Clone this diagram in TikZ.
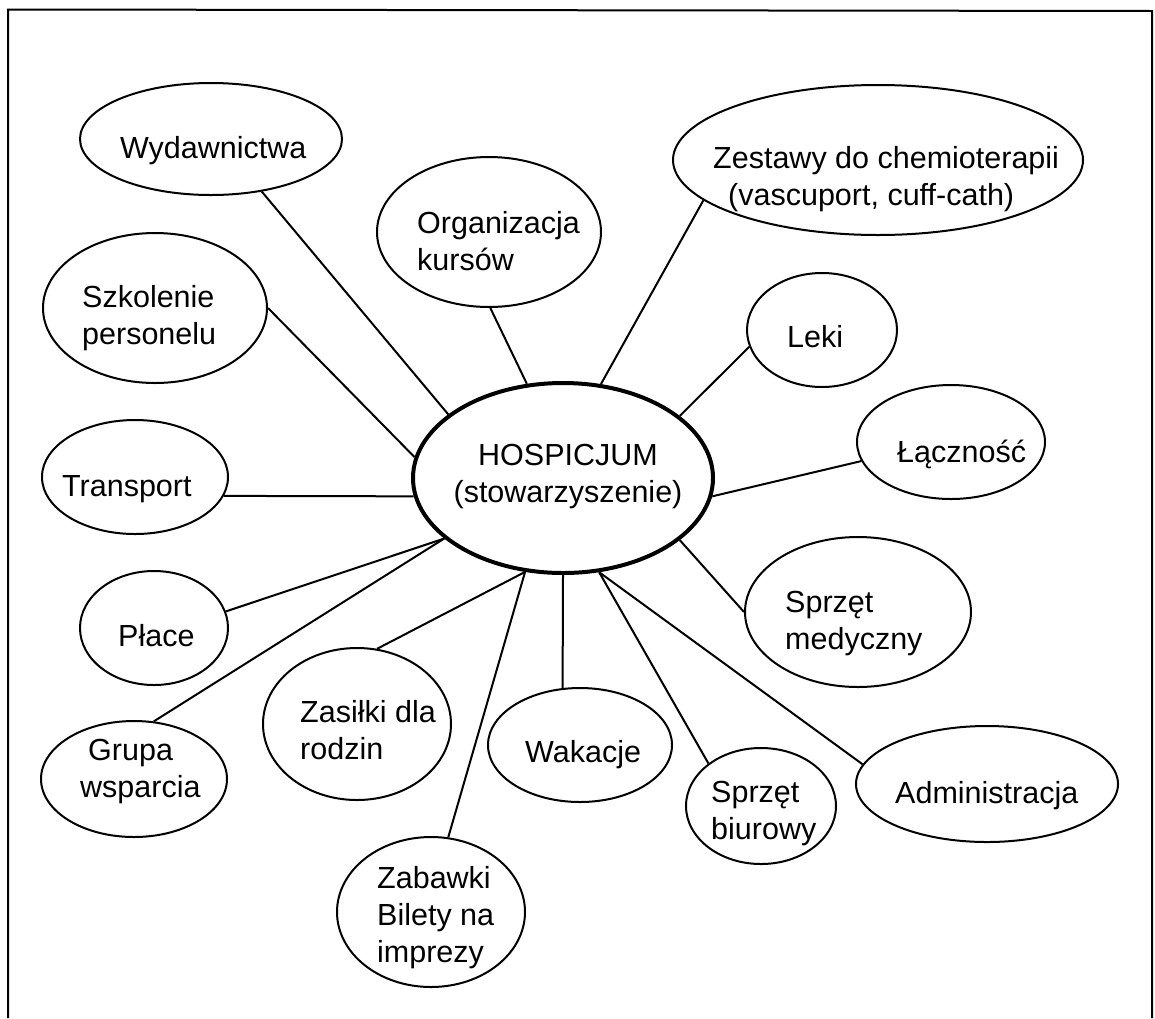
\documentclass[tikz,border=0pt]{standalone}
\usepackage{fontspec}
\setmainfont{Liberation Sans}
\usetikzlibrary{shapes.geometric}
\newcommand\mlL[1]{\begin{tabular}[t]{@{}l@{}}#1\end{tabular}}
\newcommand\mlC[1]{\begin{tabular}[t]{@{}c@{}}#1\end{tabular}}
\begin{document}
\begin{tikzpicture}[x=1pt,y=-1pt,
  bub/.style={draw, ellipse, line width=2pt, inner sep=0pt},
  hub/.style={bub, line width=4pt},
  txt/.style={inner sep=0pt, font=\fontsize{30.5}{37}\selectfont},
  link/.style={line width=2pt},
  frame/.style={line width=2pt}]
\useasboundingbox (0,0) rectangle (1155,1018);
% frame
\draw[frame] (8,1018) -- (8,9.5) -- (1152,11) -- (1152,1018);

% ellipses
\node[hub, minimum width=300pt, minimum height=190pt] (cen) at (563,478) {};
\node[bub, minimum width=262pt, minimum height=112pt] (wyd) at (211,139) {};
\node[bub, minimum width=224pt, minimum height=150pt] (szk) at (155,308) {};
\node[bub, minimum width=224pt, minimum height=150pt] (org) at (489,232) {};
\node[bub, minimum width=410pt, minimum height=150pt] (zes) at (878,160) {};
\node[bub, minimum width=150pt, minimum height=114pt] (lek) at (822,330) {};
\node[bub, minimum width=188pt, minimum height=114pt] (lac) at (951,442) {};
\node[bub, minimum width=226pt, minimum height=150pt] (spm) at (858,612) {};
\node[bub, minimum width=186pt, minimum height=114pt] (tra) at (135,477) {};
\node[bub, minimum width=148pt, minimum height=114pt] (pla) at (154,628) {};
\node[bub, minimum width=186pt, minimum height=116pt] (gru) at (134,779) {};
\node[bub, minimum width=188pt, minimum height=152pt] (zas) at (357,724) {};
\node[bub, minimum width=184pt, minimum height=114pt] (wak) at (580,745) {};
\node[bub, minimum width=188pt, minimum height=150pt] (zab) at (431,912) {};
\node[bub, minimum width=150pt, minimum height=116pt] (spb) at (761,806) {};
\node[bub, minimum width=262pt, minimum height=116pt] (adm) at (987,784) {};

% texts
\node[txt, anchor=base] (cen-t) at (568,465) {\mlC{HOSPICJUM\\(stowarzyszenie)}};
\node[txt, anchor=base west] (wyd-t) at (120,158) {Wydawnictwa};
\node[txt, anchor=base west] (szk-t) at (82,307) {\mlL{Szkolenie\\personelu}};
\node[txt, anchor=base west] (org-t) at (417,233) {\mlL{Organizacja\\kursów}};
\node[txt, anchor=base west] (zes-t) at (713,168) {\mlL{Zestawy do chemioterapii\\\hspace*{15pt}(vascuport, cuff-cath)}};
\node[txt, anchor=base west] (lek-t) at (787,347) {Leki};
\node[txt, anchor=base west] (lac-t) at (897,462) {Łączność};
\node[txt, anchor=base west] (spm-t) at (785,612) {\mlL{Sprzęt\\medyczny}};
\node[txt, anchor=base west] (tra-t) at (62,496) {Transport};
\node[txt, anchor=base west] (pla-t) at (118,646) {Płace};
\node[txt, anchor=base west] (gru-t) at (80,760) {\mlL{\hspace*{8pt}Grupa\\wsparcia}};
\node[txt, anchor=base west] (zas-t) at (300,722) {\mlL{Zasiłki dla\\rodzin}};
\node[txt, anchor=base west] (wak-t) at (525,762) {Wakacje};
\node[txt, anchor=base west] (zab-t) at (377,888) {\mlL{Zabawki\\Bilety na\\imprezy}};
\node[txt, anchor=base west] (spb-t) at (711,802) {\mlL{Sprzęt\\biurowy}};
\node[txt, anchor=base west] (adm-t) at (895,803) {Administracja};

% connectors
\draw[link] (wyd.-46) -- (cen.151.3);
\draw[link] (szk.0) -- (cen.172.3);
\draw[link] (org.-89) -- (cen.111.6);
\draw[link] (zes.193.1) -- (cen.68.7);
\draw[link] (lek.193.5) -- (cen.28.2);
\draw[link] (lac.192.6) -- (cen.-7.8);
\draw[link] (spm.180) -- (cen.-28.5);
\draw[link] (tra.-12.1) -- (cen.187.2);
\draw[link] (pla.13.7) -- (cen.207.2);
\draw[link] (gru.71.6) -- (cen.207.2);
\draw[link] (zas.75.3) -- (cen.248.2);
\draw[link] (zab.77.1) -- (cen.248.2);
\draw[link] (wak.107.5) -- (cen.270);
\draw[link] (spb.141.1) -- (cen.291);
\draw[link] (adm.171.7) -- (cen.291);
\end{tikzpicture}
\end{document}
